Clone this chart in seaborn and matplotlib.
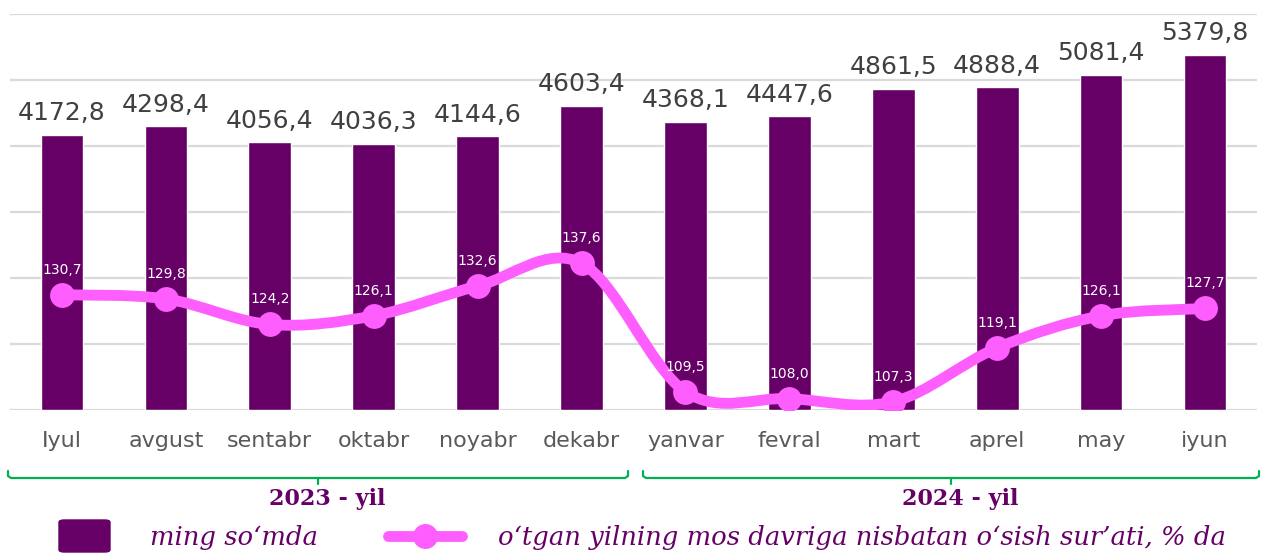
import numpy as np
import matplotlib
matplotlib.use("Agg")
import matplotlib.pyplot as plt
from matplotlib.path import Path
from matplotlib.patches import PathPatch, FancyBboxPatch
from matplotlib.lines import Line2D
import seaborn as sns

# data
months = ['Iyul', 'avgust', 'sentabr', 'oktabr', 'noyabr', 'dekabr',
          'yanvar', 'fevral', 'mart', 'aprel', 'may', 'iyun']
wage = [4172.8, 4298.4, 4056.4, 4036.3, 4144.6, 4603.4,
        4368.1, 4447.6, 4861.5, 4888.4, 5081.4, 5379.8]
growth = [130.7, 129.8, 124.2, 126.1, 132.6, 137.6,
          109.5, 108.0, 107.3, 119.1, 126.1, 127.7]
years = ['2023 - yil', '2024 - yil']
legend_bar = 'ming so\u2018mda'
legend_line = 'o\u2018tgan yilning mos davriga nisbatan o\u2018sish sur\u2019ati, % da'

BAR = '#660066'
PINK = '#FF5EFF'
GREEN = '#00B050'
W, H = 1267, 555

sns.set_style('white')
plt.rcParams['font.family'] = ['DejaVu Sans']

fig = plt.figure(figsize=(W / 100, H / 100), dpi=100)
ax = fig.add_axes([10 / W, (H - 410) / H, 1247 / W, 396 / H])

sns.barplot(x=months, y=wage, color=BAR, saturation=1, width=0.41, ax=ax)
ax.set_xlim(-0.5, 11.5)
ax.set_ylim(0, 6000)
ax.set_yticks(np.arange(0, 7000, 1000))
ax.grid(axis='y', color='#D9D9D9', lw=1.6)
ax.set_axisbelow(True)
for s in ax.spines.values():
    s.set_visible(False)
ax.tick_params(axis='y', length=0, labelleft=False)
ax.tick_params(axis='x', length=0, pad=15, labelsize=16, labelcolor='#595959')
ax.set_xlabel('')
ax.set_ylabel('')

labels = [f'{v:.1f}'.replace('.', ',') for v in wage]
ax.bar_label(ax.containers[0], labels=labels, padding=7, fontsize=18, color='#404040')

# growth line on the secondary axis
ax2 = ax.twinx()
ax2.set_ylim(105.5, 192.1)
ax2.set_yticks([])
for s in ax2.spines.values():
    s.set_visible(False)

# smooth curve through the points (Bezier, like the spreadsheet smoothing)
x = np.arange(len(growth), dtype=float)
y = np.array(growth)
px = np.concatenate([[x[0]], x, [x[-1]]])
py = np.concatenate([[y[0]], y, [y[-1]]])
verts = [(x[0], y[0])]
codes = [Path.MOVETO]
for i in range(len(x) - 1):
    c1 = (px[i + 1] + (px[i + 2] - px[i]) / 6, py[i + 1] + (py[i + 2] - py[i]) / 6)
    c2 = (px[i + 2] - (px[i + 3] - px[i + 1]) / 6, py[i + 2] - (py[i + 3] - py[i + 1]) / 6)
    verts += [c1, c2, (x[i + 1], y[i + 1])]
    codes += [Path.CURVE4] * 3
ax2.add_patch(PathPatch(Path(verts, codes), facecolor='none', edgecolor=PINK,
                        lw=7.8, capstyle='round', joinstyle='round'))
sns.scatterplot(x=x, y=y, s=320, color=PINK, edgecolor=PINK, linewidth=0, ax=ax2, zorder=3)
for xi, v in zip(x, growth):
    ax2.annotate(f'{v:.1f}'.replace('.', ','), (xi, v), xytext=(0, 18),
                 textcoords='offset points', ha='center', va='center',
                 fontsize=10, color='white')

# year brackets below the month labels
def fx(px_):
    return px_ / W

def fy(py_):
    return (H - py_) / H

for (x0, x1), label, tx in zip([(8, 628), (643, 1259)], years, [327, 960]):
    xm = (x0 + x1) / 2
    fig.add_artist(Line2D([fx(x0), fx(x0), fx(x0 + 3), fx(x1 - 3), fx(x1), fx(x1)],
                          [fy(471), fy(476), fy(478), fy(478), fy(476), fy(471)],
                          color=GREEN, lw=1.6, solid_joinstyle='round'))
    fig.add_artist(Line2D([fx(xm), fx(xm)], [fy(478), fy(484)], color=GREEN, lw=1.6))
    fig.text(fx(tx), fy(499), label, ha='center', va='center', fontsize=16,
             fontweight='bold', family='DejaVu Serif', color=BAR)

# legend drawn by hand
fig.add_artist(FancyBboxPatch((fx(59), fy(552)), fx(51), (32) / H,
                              boxstyle='round,pad=0,rounding_size=0.004',
                              transform=fig.transFigure, facecolor=BAR, edgecolor=BAR))
fig.text(fx(150), fy(537), legend_bar, ha='left', va='center', fontsize=18.6,
         style='italic', family='DejaVu Serif', color=BAR)
fig.add_artist(Line2D([fx(388), fx(462)], [fy(536), fy(536)], color=PINK, lw=7.8,
                      solid_capstyle='round'))
fig.add_artist(Line2D([fx(425)], [fy(536)], color=PINK, marker='o', markersize=18,
                      markeredgewidth=0))
fig.text(fx(498), fy(537), legend_line, ha='left', va='center', fontsize=18.6,
         style='italic', family='DejaVu Serif', color=BAR)

fig.savefig('out.png', dpi=100)
